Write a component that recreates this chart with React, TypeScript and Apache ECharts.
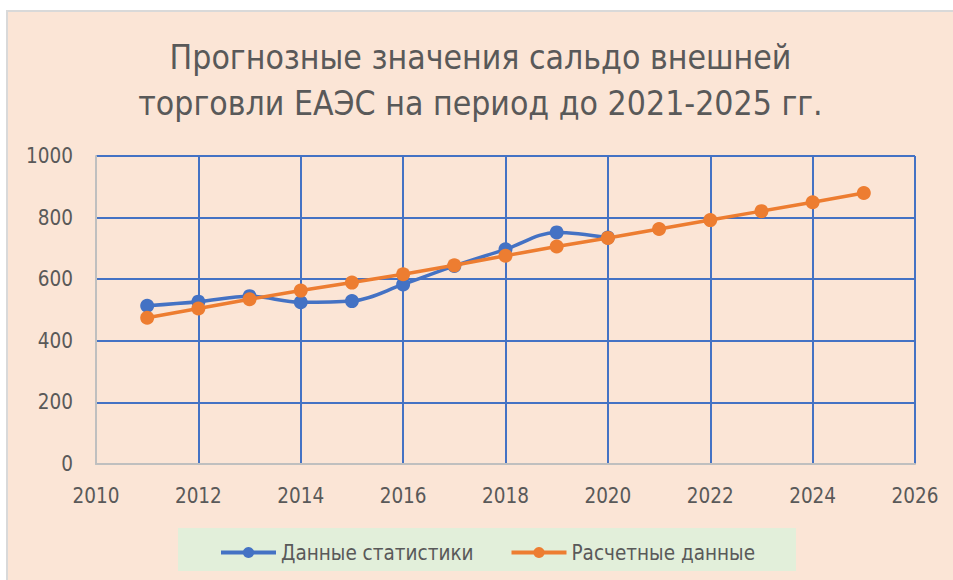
import React, { useEffect, useRef } from "react";
import * as echarts from "echarts";

const titleLines = ["Прогнозные значения сальдо внешней", "торговли ЕАЭС на период до 2021-2025 гг."];
const seriesNames = ["Данные статистики", "Расчетные данные"];
const statYears = [2011, 2012, 2013, 2014, 2015, 2016, 2017, 2018, 2019, 2020];
const statValues = [514, 527, 545, 525, 529, 583, 643, 697, 752, 735];
const calcYears = [2011, 2012, 2013, 2014, 2015, 2016, 2017, 2018, 2019, 2020, 2021, 2022, 2023, 2024, 2025];
const calcValues = [475, 505, 535, 563, 589, 616, 645, 676, 706, 734, 763, 792, 821, 850, 880];

const FONT = "'Liberation Sans Narrow', 'DejaVu Sans Condensed', 'Open Sans', sans-serif";
const GRAY = "#595959";
const BLUE = "#4472C4";
const ORANGE = "#ED7D31";

export default function App() {
  const ref = useRef<HTMLDivElement>(null);
  useEffect(() => {
    if (!ref.current) return;
    const chart = echarts.init(ref.current, null, { renderer: "svg" });
    chart.setOption({
      animation: false,
      backgroundColor: "#FBE5D6",
      title: {
        text: titleLines.join("\n"),
        left: "center",
        top: 22,
        padding: 0,
        textStyle: { fontFamily: FONT, fontSize: 33.5, lineHeight: 46, color: GRAY, fontWeight: "normal" },
      },
      graphic: [
        { type: "rect", shape: { x: 170, y: 516, width: 618, height: 43 }, style: { fill: "#E2EFDA" }, z: 0 },
      ],
      legend: {
        left: 206,
        top: 525,
        itemWidth: 55,
        itemHeight: 14,
        itemGap: 36,
        lineStyle: { width: 4 },
        textStyle: { fontFamily: FONT, fontSize: 20.5, color: GRAY },
        data: seriesNames,
      },
      grid: { left: 88, top: 144, right: 38, bottom: 116, containLabel: false },
      xAxis: {
        type: "value",
        min: 2010,
        max: 2026,
        interval: 2,
        axisLine: { show: true, lineStyle: { color: "#BFBFBF", width: 2 } },
        axisTick: { show: false },
        axisLabel: { margin: 21, fontFamily: FONT, fontSize: 20.5, color: GRAY, formatter: (v: number) => String(v) },
        splitLine: { show: true, showMinLine: false, lineStyle: { color: BLUE, width: 2 } },
      },
      yAxis: {
        type: "value",
        min: 0,
        max: 1000,
        interval: 200,
        axisLine: { show: true, lineStyle: { color: "#BFBFBF", width: 2 } },
        axisTick: { show: false },
        axisLabel: { margin: 23, fontFamily: FONT, fontSize: 20.5, color: GRAY, formatter: (v: number) => String(v) },
        splitLine: { show: true, showMinLine: false, lineStyle: { color: BLUE, width: 2 } },
      },
      series: [
        {
          name: seriesNames[0],
          type: "line",
          smooth: 0.35,
          symbol: "circle",
          symbolSize: 14,
          itemStyle: { color: BLUE },
          lineStyle: { color: BLUE, width: 3.5 },
          data: statYears.map((y, i) => [y, statValues[i]]),
          z: 3,
        },
        {
          name: seriesNames[1],
          type: "line",
          symbol: "circle",
          symbolSize: 14,
          itemStyle: { color: ORANGE },
          lineStyle: { color: ORANGE, width: 3.5 },
          data: calcYears.map((y, i) => [y, calcValues[i]]),
          z: 4,
        },
      ],
    });
    return () => chart.dispose();
  }, []);
  return (
    <div style={{ position: "fixed", left: 0, top: 0, width: 953, height: 580, background: "#fff" }}>
      <div
        style={{
          position: "absolute",
          left: 6,
          top: 10,
          width: 947,
          height: 570,
          boxSizing: "border-box",
          borderLeft: "2px solid #D9D9D9",
          borderTop: "2px solid #D9D9D9",
        }}
      >
        <div ref={ref} style={{ width: 945, height: 568 }} />
      </div>
    </div>
  );
}
